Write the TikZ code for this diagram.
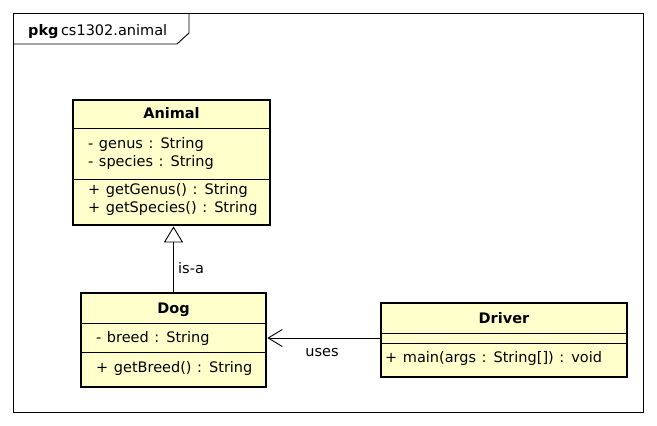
\documentclass[tikz,border=0pt]{standalone}
\usepackage{fontspec}
\setmainfont{DejaVu Sans}[WordSpace=1.2]
\usetikzlibrary{arrows.meta}
\definecolor{classfill}{HTML}{FFFFCC}
\tikzset{
  classbox/.style={draw=black, line width=2.8pt, fill=classfill, rectangle, inner sep=0pt},
  sepline/.style={draw=black, line width=0.9pt},
  member/.style={anchor=west, inner sep=0pt, font=\fontsize{14.5}{17}\selectfont, text height=10pt, text depth=3pt},
  ctitle/.style={inner sep=0pt, font=\fontsize{14.5}{17}\selectfont\bfseries, text height=10pt, text depth=3pt},
  lbl/.style={inner sep=0pt, font=\fontsize{14.5}{17}\selectfont, text height=10pt, text depth=3pt},
  conn/.style={draw=black, line width=0.9pt},
}
\begin{document}
\begin{tikzpicture}[x=1pt,y=-1pt]
\useasboundingbox (0,0) rectangle (657,426);
% package frame
\draw[line width=0.9pt] (13,13) rectangle (643,412);
\draw[line width=0.9pt] (13,44) -- (177,44) -- (189,33) -- (189,13);
\node[lbl, anchor=west] (pkg) at (28,31.5) {\textbf{pkg}\,cs1302.animal};

% Animal
\node[classbox, minimum width=197pt, minimum height=125pt] (animal) at (171.5,162.5) {};
\draw[sepline] (73,128) -- (270,128);
\draw[sepline] (73,179) -- (270,179);
\node[ctitle] (animalT) at (171.5,114.5) {Animal};
\node[member] (a1) at (88,144.5) {- genus : String};
\node[member] (a2) at (88,162.5) {- species : String};
\node[member] (a3) at (88,190.5) {+ getGenus() : String};
\node[member] (a4) at (88,208.5) {+ getSpecies() : String};

% Dog
\node[classbox, minimum width=185pt, minimum height=94pt] (dog) at (173.5,340) {};
\draw[sepline] (81,323) -- (266,323);
\draw[sepline] (81,352) -- (266,352);
\node[ctitle] (dogT) at (173.5,309.5) {Dog};
\node[member] (d1) at (96,338.5) {- breed : String};
\node[member] (d2) at (96,368.5) {+ getBreed() : String};

% Driver
\node[classbox, minimum width=246pt, minimum height=74pt] (driver) at (504,340) {};
\draw[sepline] (381,333) -- (627,333);
\draw[sepline] (381,343) -- (627,343);
\node[ctitle] (driverT) at (504,319.5) {Driver};
\node[member] (m1) at (385,358.5) {+ main(args : String[]) : void};

% connectors
\draw[conn, -{Triangle[open, length=16pt, width=19pt, fill=white]}] (dog.north) -- (dog.north |- animal.south);
\node[lbl, anchor=west] (isa) at (178,269.5) {is-a};
\draw[conn, -{Straight Barb[length=14pt, width=17pt]}] (driver.west |- 0,338) -- (dog.east |- 0,338);
\node[lbl] (uses) at (322,353) {uses};
\end{tikzpicture}
\end{document}
